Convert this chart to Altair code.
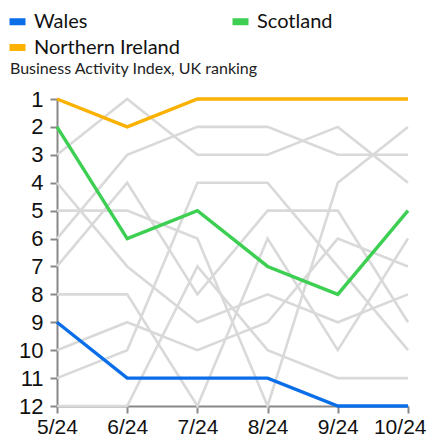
import altair as alt
import pandas as pd

months = ["5/24", "6/24", "7/24", "8/24", "9/24", "10/24"]

# highlighted regions (rank, 1 = best)
wales = [9, 11, 11, 11, 12, 12]
scotland = [2, 6, 5, 7, 8, 5]
northern_ireland = [1, 2, 1, 1, 1, 1]

# other UK regions (grey background lines)
other_1 = [3, 1, 3, 3, 2, 4]
other_2 = [4, 7, 9, 8, 9, 8]
other_3 = [5, 5, 6, 12, 4, 2]
other_4 = [6, 3, 2, 2, 3, 3]
other_5 = [7, 4, 8, 5, 5, 9]
other_6 = [8, 8, 12, 6, 10, 6]
other_7 = [10, 9, 10, 9, 6, 7]
other_8 = [11, 10, 4, 4, 7, 10]
other_9 = [12, 12, 7, 10, 11, 11]

# legend is filled column by column: Wales, Northern Ireland | Scotland
highlight_names = ["Wales", "Northern Ireland", "Scotland"]
highlight_colors = ["#0a6ee8", "#fbb100", "#3ccf52"]
highlight_series = [wales, northern_ireland, scotland]

others = [other_1, other_2, other_3, other_4, other_5, other_6, other_7, other_8, other_9]

rows_o = []
for i, s in enumerate(others):
    for m, r in zip(months, s):
        rows_o.append({"region": f"Other {i+1}", "month": m, "rank": r})
df_o = pd.DataFrame(rows_o)

rows_h = []
for name, s in zip(highlight_names, highlight_series):
    for m, r in zip(months, s):
        rows_h.append({"region": name, "month": m, "rank": r})
df_h = pd.DataFrame(rows_h)

last_test = "datum.label == '10/24'"
x_enc = alt.X("month:O", sort=months, scale=alt.Scale(type="point", padding=0),
              axis=alt.Axis(title=None, labelAngle=0, labelFontSize=21, labelFont="Liberation Sans",
                            labelColor="#111", domainColor="#888", domainWidth=2,
                            tickColor="#888", tickSize=7, tickWidth=2, labelPadding=3,
                            labelAlign={"condition": {"test": last_test, "value": "right"}, "value": "center"},
                            labelOffset={"condition": {"test": last_test, "value": 18}, "value": 0}))
y_enc = alt.Y("rank:Q", scale=alt.Scale(domain=[1, 12], reverse=True, nice=False, zero=False),
              axis=alt.Axis(title=None, values=list(range(1, 13)), format="d", grid=False,
                            labelFontSize=22, labelFont="Liberation Sans", labelColor="#111",
                            domainColor="#888", domainWidth=2, tickColor="#888",
                            tickSize=7, tickWidth=2, labelPadding=7))

grey = alt.Chart(df_o).mark_line(strokeWidth=2.6, color="#d9d9d9").encode(
    x=x_enc, y=y_enc, detail="region:N")

hl = alt.Chart(df_h).mark_line(strokeWidth=3.4).encode(
    x=x_enc, y=y_enc,
    color=alt.Color("region:N", sort=highlight_names,
                    scale=alt.Scale(domain=highlight_names, range=highlight_colors),
                    legend=alt.Legend(title=None, orient="none", legendX=-51, legendY=-89,
                                      columns=2, columnPadding=38, rowPadding=-10,
                                      symbolType="stroke", symbolStrokeWidth=7, symbolSize=256,
                                      labelFontSize=20, labelFont="Lato", labelColor="#111",
                                      labelOffset=5)))

sub = alt.Chart(pd.DataFrame({"t": ["Business Activity Index, UK ranking"]})).mark_text(
    align="left", baseline="alphabetic", font="Lato", fontSize=16, color="#222").encode(
    x=alt.value(-47), y=alt.value(-25), text="t:N")

chart = alt.layer(grey, hl, sub).properties(
    width=351, height=307,
    padding={"left": 49, "top": 91, "right": 19, "bottom": 33},
    autosize=alt.AutoSizeParams(type="none")
).configure_view(stroke=None)

chart.save("out.html", embed_options={"renderer": "svg", "actions": False})
